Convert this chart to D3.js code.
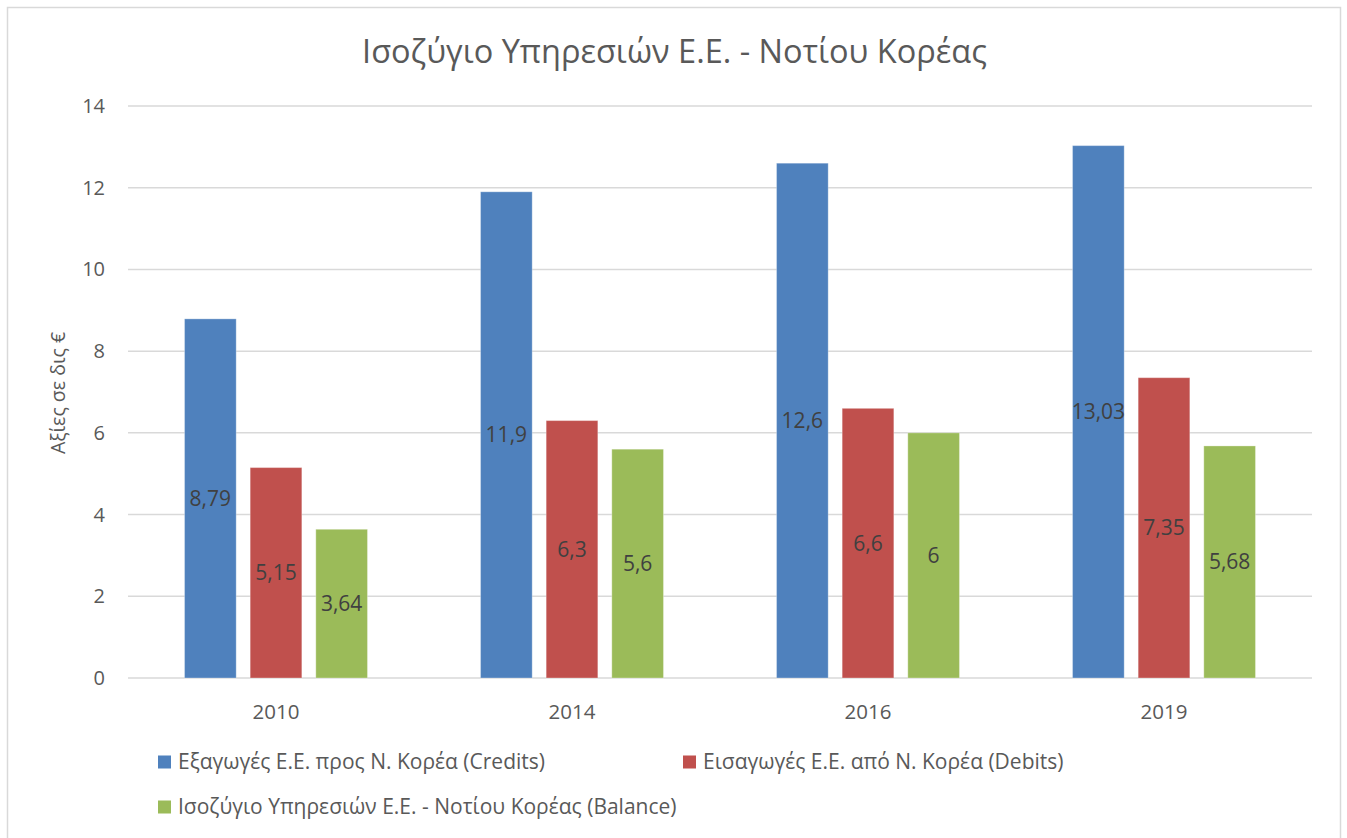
<!DOCTYPE html>
<html>
<head>
<meta charset="utf-8">
<script src="https://cdn.jsdelivr.net/npm/d3@7"></script>
<style>
  html, body { margin: 0; padding: 0; background: #fff; }
  svg { display: block; font-family: "Open Sans", "Noto Sans", sans-serif; }
</style>
</head>
<body>
<svg id="chart" width="1347" height="838"></svg>
<script>
const years = ["2010", "2014", "2016", "2019"];
const seriesNames = [
  "Εξαγωγές Ε.Ε. προς Ν. Κορέα (Credits)",
  "Εισαγωγές Ε.Ε. από Ν. Κορέα (Debits)",
  "Ισοζύγιο Υπηρεσιών Ε.Ε. - Νοτίου Κορέας (Balance)"
];
const credits = [8.79, 11.9, 12.6, 13.03];
const debits = [5.15, 6.3, 6.6, 7.35];
const balance = [3.64, 5.6, 6, 5.68];
const colors = ["#4f81bd", "#c0504d", "#9bbb59"];
const yTicks = [0, 2, 4, 6, 8, 10, 12, 14];
const title = "Ισοζύγιο Υπηρεσιών Ε.Ε. - Νοτίου Κορέας";
const yTitle = "Αξίες σε δις €";

const seriesValues = [credits, debits, balance];
const svg = d3.select("#chart");

// outer frame
svg.append("rect").attr("x", 7.5).attr("y", 7.5).attr("width", 1333).attr("height", 840)
  .attr("fill", "#fff").attr("stroke", "#d9d9d9").attr("stroke-width", 1.5);

const plot = { left: 128, right: 1312, top: 106, bottom: 678 };

const x0 = d3.scaleBand().domain(years).range([plot.left, plot.right]).paddingInner(0.382).paddingOuter(0.191);
const x1 = d3.scaleBand().domain(d3.range(3)).range([0, x0.bandwidth()]).paddingInner(0.213).paddingOuter(0);
const y = d3.scaleLinear().domain([0, 14]).range([plot.bottom, plot.top]);

// gridlines
svg.append("g").selectAll("line").data(yTicks).join("line")
  .attr("x1", plot.left).attr("x2", plot.right)
  .attr("y1", d => y(d)).attr("y2", d => y(d))
  .attr("stroke", "#d9d9d9").attr("stroke-width", 1.5);

// y tick labels
svg.append("g").selectAll("text").data(yTicks).join("text")
  .attr("x", 105).attr("y", d => y(d)).attr("dy", "0.35em")
  .attr("text-anchor", "end").attr("fill", "#595959").attr("font-size", 20)
  .text(d => d);

// bars
const groups = svg.append("g").selectAll("g").data(years).join("g")
  .attr("transform", d => `translate(${x0(d)},0)`);

groups.selectAll("rect").data((d, i) => seriesValues.map((s, k) => ({ k, v: s[i] }))).join("rect")
  .attr("x", d => x1(d.k)).attr("width", x1.bandwidth())
  .attr("y", d => y(d.v)).attr("height", d => y(0) - y(d.v))
  .attr("fill", d => colors[d.k])
  .attr("stroke", "rgba(255,255,255,0.3)").attr("stroke-width", 1);

groups.selectAll("text").data((d, i) => seriesValues.map((s, k) => ({ k, v: s[i] }))).join("text")
  .attr("x", d => x1(d.k) + x1.bandwidth() / 2)
  .attr("y", d => y(d.v / 2)).attr("dy", "0.35em")
  .attr("text-anchor", "middle").attr("fill", "#404040").attr("font-size", 21)
  .text(d => String(d.v).replace(".", ","));

// x labels
svg.append("g").selectAll("text").data(years).join("text")
  .attr("x", d => x0(d) + x0.bandwidth() / 2).attr("y", 712).attr("dy", "0.35em")
  .attr("text-anchor", "middle").attr("fill", "#595959").attr("font-size", 20.5)
  .text(d => d);

// title
svg.append("text").attr("x", 674.5).attr("y", 52).attr("dy", "0.35em")
  .attr("text-anchor", "middle").attr("fill", "#595959").attr("font-size", 32.5)
  .text(title);

// y title
svg.append("text").attr("transform", "translate(58,393) rotate(-90)").attr("dy", "0.35em")
  .attr("text-anchor", "middle").attr("fill", "#595959").attr("font-size", 19.5)
  .text(yTitle);

// legend
const legendPos = [[158, 762], [683, 762], [158, 807]];
const lg = svg.append("g").selectAll("g").data(seriesNames).join("g")
  .attr("transform", (d, i) => `translate(${legendPos[i][0]},${legendPos[i][1]})`);
lg.append("rect").attr("x", 0).attr("y", -6.5).attr("width", 13).attr("height", 13)
  .attr("fill", (d, i) => colors[i]);
lg.append("text").attr("x", 20).attr("y", 0).attr("dy", "0.35em")
  .attr("fill", "#595959").attr("font-size", 21).text(d => d);
</script>
</body>
</html>
